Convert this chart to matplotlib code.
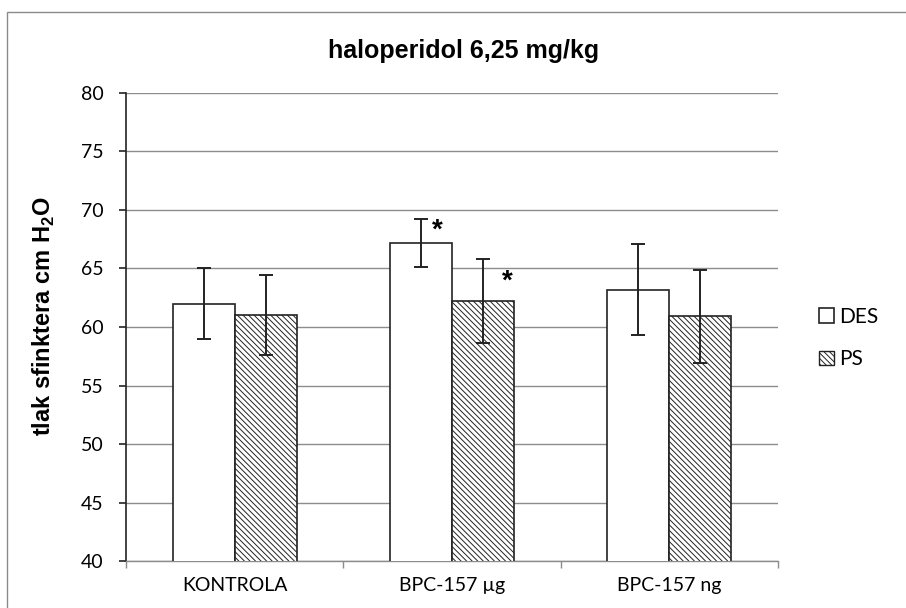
import matplotlib
matplotlib.use('Agg')
import matplotlib.pyplot as plt
from matplotlib.patches import Patch, Rectangle
import numpy as np

categories = ['KONTROLA', 'BPC-157 µg', 'BPC-157 ng']
des = [62.0, 67.2, 63.2]
des_err = [3.05, 2.05, 3.9]
ps = [61.0, 62.2, 60.9]
ps_err = [3.4, 3.6, 3.95]
des_sig = [False, True, False]
ps_sig = [False, True, False]
series_names = ['DES', 'PS']
title = 'haloperidol 6,25 mg/kg'
ylabel = r'tlak sfinktera cm H$_\mathbf{2}$O'
yticks = [40, 45, 50, 55, 60, 65, 70, 75, 80]

plt.rcParams['mathtext.fontset'] = 'custom'
plt.rcParams['mathtext.bf'] = 'Liberation Sans:bold'
plt.rcParams['mathtext.rm'] = 'Liberation Sans'
plt.rcParams['hatch.linewidth'] = 0.7

W, H = 906, 608
fig = plt.figure(figsize=(W / 100, H / 100), dpi=100)
ax = fig.add_axes([126 / W, 1 - 561.3 / H, 652 / W, (561.3 - 92.7) / H])

# chart frame (cut off at right and bottom like the original)
fig.patches.append(Rectangle((7 / W, -0.2), 1.2, 1 - 12 / H + 0.2, transform=fig.transFigure,
                             fill=False, edgecolor='#8a8a8a', lw=1.0))

x = np.arange(len(categories))
w = 0.286
ekw = dict(ecolor='#222222', elinewidth=1.4, capsize=5, capthick=1.4)

ax.bar(x - w / 2, des, w, yerr=des_err, color='white', edgecolor='#222222',
       linewidth=1.2, zorder=3, error_kw=ekw, label=series_names[0])
ax.bar(x + w / 2, ps, w, yerr=ps_err, color='white', edgecolor='#222222',
       hatch='\\\\\\\\\\\\', linewidth=1.2, zorder=3, error_kw=ekw, label=series_names[1])

for i in range(len(categories)):
    if des_sig[i]:
        ax.text(x[i] - w / 2 + 0.075, des[i] + des_err[i] - 1.0, '*', fontsize=20,
                fontweight='bold', family='Liberation Sans', ha='center', va='center', zorder=5)
    if ps_sig[i]:
        ax.text(x[i] + w / 2 + 0.11, ps[i] + ps_err[i] - 1.9, '*', fontsize=20,
                fontweight='bold', family='Liberation Sans', ha='center', va='center', zorder=5)

ax.set_xlim(-0.5, len(categories) - 0.5)
ax.set_ylim(40, 80)
ax.set_yticks(yticks)
ax.yaxis.grid(True, color='#8c8c8c', linewidth=1.0, zorder=0)
ax.set_axisbelow(True)

for s in ['top', 'right']:
    ax.spines[s].set_visible(False)
ax.spines['left'].set_color('#222222')
ax.spines['left'].set_linewidth(1.2)
ax.spines['bottom'].set_color('#8c8c8c')
ax.spines['bottom'].set_linewidth(1.0)

ax.set_xticks(x)
ax.set_xticklabels(categories, family='Lato', fontsize=14)
ax.set_xticks(np.arange(len(categories) + 1) - 0.5, minor=True)
ax.tick_params(axis='x', which='major', length=0, pad=11)
ax.tick_params(axis='x', which='minor', length=5, color='#8c8c8c', width=1.0, direction='out')
ax.tick_params(axis='y', length=5, width=1.2, color='#222222', pad=11, labelsize=14)
for t in ax.get_yticklabels():
    t.set_family('Lato')

ax.set_ylabel(ylabel, fontsize=17, fontweight='bold', family='Liberation Sans')
ax.yaxis.set_label_coords((57 - 126) / 652, (561.3 - 316) / (561.3 - 92.7))

fig.text(464 / W, 1 - 51 / H, title, fontsize=18, fontweight='bold',
         family='Liberation Sans', ha='center', va='center')

handles = [Patch(facecolor='white', edgecolor='#222222', linewidth=1.2),
           Patch(facecolor='white', edgecolor='#222222', linewidth=1.0, hatch='\\\\\\\\\\\\')]
fig.legend(handles, series_names, loc='center left', bbox_to_anchor=(819 / W, 1 - 338 / H),
           frameon=False, borderpad=0, borderaxespad=0, handlelength=0.7, handleheight=0.7,
           handletextpad=0.25, labelspacing=1.1, prop={'family': 'Lato', 'size': 15})

fig.savefig('out.png', dpi=100)
